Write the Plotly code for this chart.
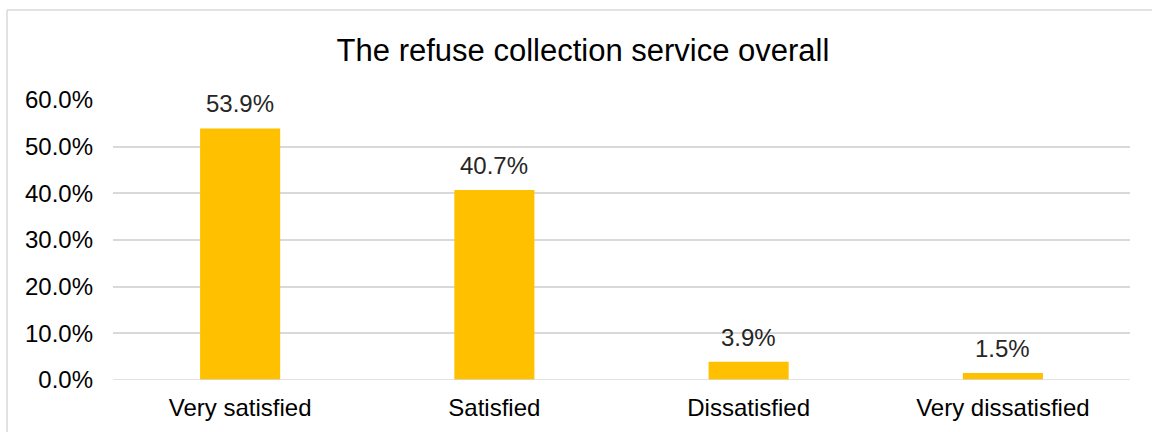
import plotly.graph_objects as go

categories = ["Very satisfied", "Satisfied", "Dissatisfied", "Very dissatisfied"]
values = [53.9, 40.7, 3.9, 1.5]
labels = ["53.9%", "40.7%", "3.9%", "1.5%"]
tick_vals = [0, 10, 20, 30, 40, 50, 60]
tick_text = ["0.0%", "10.0%", "20.0%", "30.0%", "40.0%", "50.0%", "60.0%"]

W, H = 1152, 432
L, R, T, B = 113, 22, 100, 52
pw, ph = W - L - R, H - T - B

fig = go.Figure(go.Bar(
    x=categories, y=values,
    marker=dict(color="#FFC000", line=dict(width=0)),
))

for c, v, t in zip(categories, values, labels):
    fig.add_annotation(x=c, y=v, text=t, showarrow=False, yanchor="bottom",
                       yshift=9, font=dict(size=24, color="#262626"))

fig.update_layout(
    width=W, height=H,
    margin=dict(l=L, r=R, t=T, b=B),
    paper_bgcolor="white", plot_bgcolor="white",
    font=dict(family="Liberation Sans, Arial, sans-serif", size=24, color="#262626"),
    title=dict(text="The refuse collection service overall", x=583 / W, xanchor="center",
               y=1 - 50 / H, yanchor="middle", font=dict(size=31, color="#000000")),
    bargap=0.685,
    showlegend=False,
    xaxis=dict(showgrid=False, showline=False, ticks="", ticklabelstandoff=11,
               tickfont=dict(size=24, color="#000000")),
    yaxis=dict(range=[0, 60], tickvals=tick_vals, ticktext=tick_text, showgrid=True,
               gridcolor="#D9D9D9", gridwidth=1.5, zeroline=False, showline=False,
               ticklabelstandoff=19, tickfont=dict(size=24, color="#000000")),
    shapes=[
        dict(type="line", xref="paper", yref="paper",
             x0=(7 - L) / pw, x1=(7 - L) / pw, y0=(H - 10 - B) / ph, y1=-1.0,
             line=dict(color="#D9D9D9", width=1.5)),
        dict(type="line", xref="paper", yref="paper",
             x0=(7 - L) / pw, x1=2.0, y0=(H - 10 - B) / ph, y1=(H - 10 - B) / ph,
             line=dict(color="#D9D9D9", width=1.5)),
        dict(type="line", xref="paper", yref="y", x0=0, x1=1, y0=0, y1=0,
             line=dict(color="#D9D9D9", width=1.5)),
    ],
)

fig.write_html("out.html", config={"displayModeBar": False},
               post_script="document.body.style.margin='0';document.body.style.overflow='hidden';")
